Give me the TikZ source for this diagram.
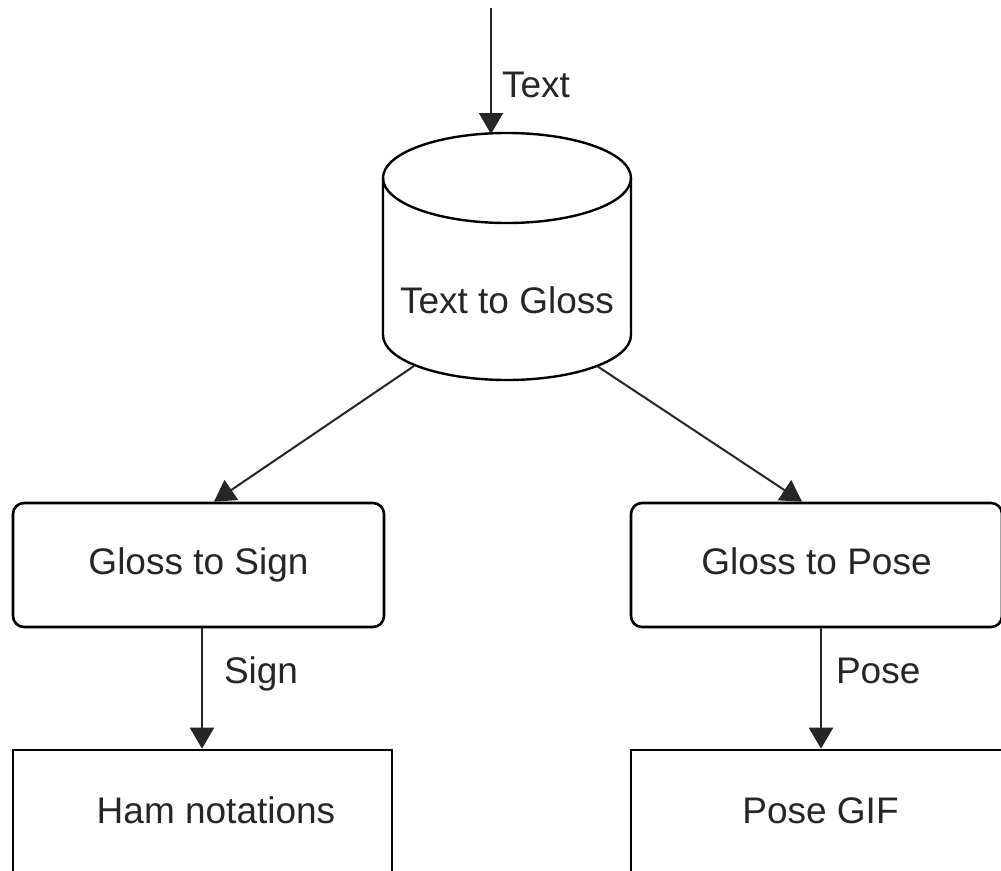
\documentclass[tikz,border=0pt]{standalone}
\usepackage{fontspec}
\setmainfont{Liberation Sans}
\usetikzlibrary{arrows.meta}
\begin{document}
\begin{tikzpicture}[x=1pt,y=1pt,
  font=\fontsize{37}{44}\selectfont,
  txt/.style={text=black!85, text height=27pt, text depth=9pt, inner sep=0pt},
  box/.style={txt, draw=black, line width=2.6pt, minimum height=124pt},
  rbox/.style={box, rounded corners=11pt, minimum width=371pt},
  sbox/.style={box, minimum width=379pt, minimum height=128pt},
  flow/.style={line width=2pt, draw=black!85,
    -{Triangle[length=21pt,width=24pt]}},
  lbl/.style={txt, anchor=west},
]
\useasboundingbox (0,0) rectangle (1001,-870);
\fill[white] (0,0) rectangle (1001,-870);
\clip (0,0) rectangle (1001,-870);

% database-style cylinder
\draw[line width=2.4pt, black] (383,-178) -- (383,-335)
  arc[start angle=180, end angle=360, x radius=124, y radius=45] -- (631,-178);
\draw[line width=2.4pt, black] (507,-178) ellipse[x radius=124, y radius=45];
\node[txt] (ttg) at (507,-304) {Text to Gloss};
\coordinate (ttgtop) at (491,-134);
\coordinate (ttgbl) at (414,-366);
\coordinate (ttgbr) at (597,-366);
\coordinate (src) at (491,-8);

% process boxes
\node[rbox] (gs) at (198.5,-565) {Gloss to Sign};
\node[rbox] (gp) at (816.5,-565) {Gloss to Pose};

% output boxes
\node[sbox] (ham) at (202.5,-814) {\hspace*{27pt}Ham notations};
\node[sbox] (gif) at (820.5,-814) {Pose GIF};

% connectors
\draw[flow] (src) -- (ttgtop) node[lbl, pos=0.64, xshift=10pt] {Text};
\draw[flow] (ttgbl) -- ([xshift=15.5pt]gs.north);
\draw[flow] (ttgbr) -- ([xshift=-14.5pt]gp.north);
\draw[flow] ([xshift=3.5pt]gs.south) -- ([xshift=-0.5pt]ham.north)
  node[lbl, pos=0.38, xshift=21pt] {Sign};
\draw[flow] ([xshift=4.5pt]gp.south) -- ([xshift=0.5pt]gif.north)
  node[lbl, pos=0.38, xshift=14pt] {Pose};
\end{tikzpicture}
\end{document}
